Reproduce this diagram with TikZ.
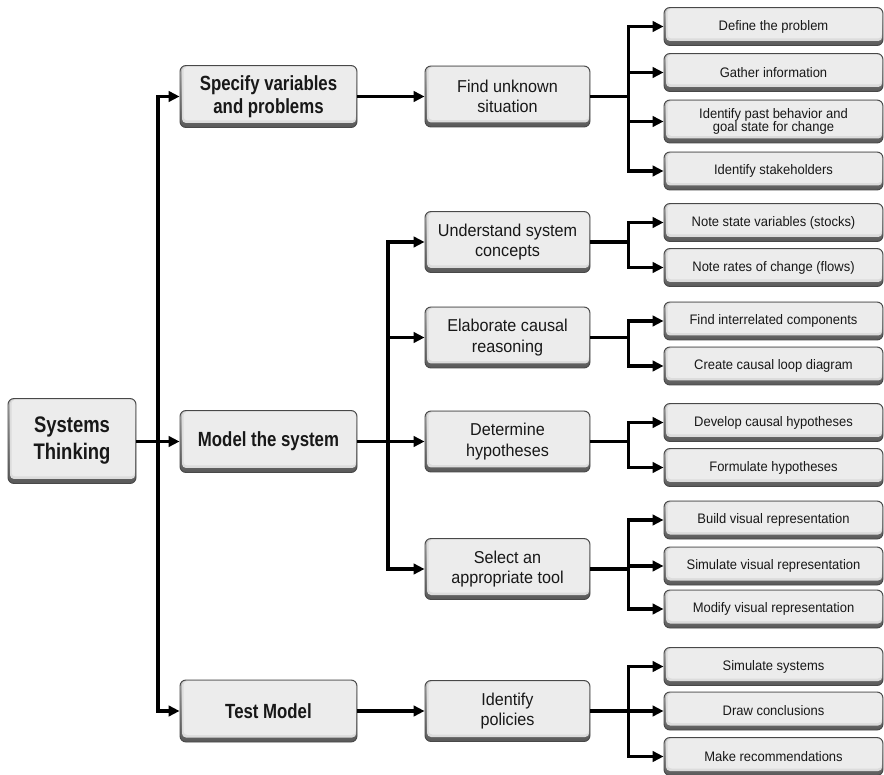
\documentclass[tikz,border=0pt]{standalone}
\usepackage{fontspec}
\setmainfont{Liberation Sans}
\newfontfamily\headfont{Liberation Sans}[FakeStretch=0.82]
\newfontfamily\bodyfont{Liberation Sans}[FakeStretch=0.94]
\usetikzlibrary{arrows.meta}

\definecolor{edge}{HTML}{484848}
\definecolor{face}{HTML}{ECECEC}
\definecolor{bevtop}{HTML}{BEBEBE}
\definecolor{bevbot}{HTML}{585858}
\definecolor{ink}{HTML}{181818}

\tikzset{
  box/.style={rounded corners=6pt, draw=edge, line width=0.9pt, align=center,
    text=ink, inner sep=0pt,
    path picture={
      \shade[top color=bevtop, bottom color=bevbot]
        (path picture bounding box.south west) rectangle (path picture bounding box.north east);
      \fill[face!85!gray, rounded corners=4pt]
        ([xshift=2pt,yshift=4.5pt]path picture bounding box.south west) rectangle
        ([xshift=-0.8pt,yshift=-0.8pt]path picture bounding box.north east);
      \fill[face, rounded corners=4pt]
        ([xshift=3.5pt,yshift=7pt]path picture bounding box.south west) rectangle
        ([xshift=-1.2pt,yshift=-1.2pt]path picture bounding box.north east);
    }},
  root/.style={box, minimum width=128pt, minimum height=85pt,
    font=\headfont\bfseries\fontsize{22.5}{27}\selectfont},
  stage/.style={box, minimum width=177pt, minimum height=62pt,
    font=\headfont\bfseries\fontsize{20.5}{23}\selectfont},
  task/.style={box, minimum width=165pt, minimum height=61pt,
    font=\bodyfont\fontsize{17.2}{20.5}\selectfont},
  item/.style={box, minimum width=219pt, minimum height=38pt,
    font=\bodyfont\fontsize{13.8}{13}\selectfont},
  wire/.style={line width=3.2pt},
  link/.style={line width=3.2pt, -{Triangle[length=11pt,width=10.5pt]}},
}

\begin{document}
\begin{tikzpicture}[x=1pt,y=-1pt]
\fill[white] (0,0) rectangle (884,775);
\useasboundingbox (0,0) rectangle (884,775);

% root and stages
\node[root]  (st)    at (72,441)     {Systems\\Thinking};
\node[stage] (spec)  at (268.5,96.5) {Specify variables\\and problems};
\node[stage] (model) at (268.5,441.5){Model the system};
\node[stage] (test)  at (268.5,711)  {Test Model};

% tasks
\node[task] (find)  at (507.5,96.5)  {Find unknown\\situation};
\node[task] (under) at (507.5,242)   {Understand system\\concepts};
\node[task] (elab)  at (507.5,337.5) {Elaborate causal\\reasoning};
\node[task] (hyp)   at (507.5,441.5) {Determine\\hypotheses};
\node[task] (tool)  at (507.5,569)   {Select an\\appropriate tool};
\node[task] (pol)   at (507.5,711)   {Identify\\policies};

% activities
\node[item] (def)   at (773.5,26.5)  {Define the problem};
\node[item] (gath)  at (773.5,72.5)  {Gather information};
\node[item, minimum height=43pt] (past) at (773.5,121.5) {Identify past behavior and\\goal state for change};
\node[item] (stake) at (773.5,171)   {Identify stakeholders};

\node[item] (stock) at (773.5,222.5) {Note state variables (stocks)};
\node[item] (flow)  at (773.5,267.5) {Note rates of change (flows)};

\node[item] (inter) at (773.5,321)   {Find interrelated components};
\node[item] (loop)  at (773.5,366)   {Create causal loop diagram};

\node[item] (dev)   at (773.5,422.5) {Develop causal hypotheses};
\node[item] (form)  at (773.5,467.5) {Formulate hypotheses};

\node[item] (build) at (773.5,520)   {Build visual representation};
\node[item] (simv)  at (773.5,566)   {Simulate visual representation};
\node[item] (modv)  at (773.5,609)   {Modify visual representation};

\node[item] (sims)  at (773.5,666.5) {Simulate systems};
\node[item] (concl) at (773.5,711)   {Draw conclusions};
\node[item] (recs)  at (773.5,756.5) {Make recommendations};

% junction points
\coordinate (j1) at (158,441.5);
\coordinate (j2) at (388,441.5);
\coordinate (jf) at ([xshift=38pt]find.east);
\coordinate (ju) at ([xshift=38pt]under.east);
\coordinate (je) at ([xshift=38pt]elab.east);
\coordinate (jh) at ([xshift=38pt]hyp.east);
\coordinate (jt) at ([xshift=38pt]tool.east);
\coordinate (jp) at ([xshift=38pt]pol.east);

% root to stages
\draw[wire] (st.east |- j1) -- (j1);
\draw[link] (j1) |- (spec.west);
\draw[link] (j1) -- (model.west);
\draw[link] (j1) |- (test.west);

% stages to tasks
\draw[link] (spec.east) -- (find.west);
\draw[wire] (model.east) -- (j2);
\draw[link] (j2) |- (under.west);
\draw[link] (j2) |- (elab.west);
\draw[link] (j2) -- (hyp.west);
\draw[link] (j2) |- (tool.west);
\draw[link] (test.east) -- (pol.west);

% tasks to activities
\draw[wire] (find.east) -- (jf);
\foreach \c in {def,gath,past,stake} \draw[link] (jf) |- (\c.west);
\draw[wire] (under.east) -- (ju);
\foreach \c in {stock,flow} \draw[link] (ju) |- (\c.west);
\draw[wire] (elab.east) -- (je);
\foreach \c in {inter,loop} \draw[link] (je) |- (\c.west);
\draw[wire] (hyp.east) -- (jh);
\foreach \c in {dev,form} \draw[link] (jh) |- (\c.west);
\draw[wire] (tool.east) -- (jt);
\foreach \c in {build,simv,modv} \draw[link] (jt) |- (\c.west);
\draw[wire] (pol.east) -- (jp);
\foreach \c in {sims,concl,recs} \draw[link] (jp) |- (\c.west);
\end{tikzpicture}
\end{document}
